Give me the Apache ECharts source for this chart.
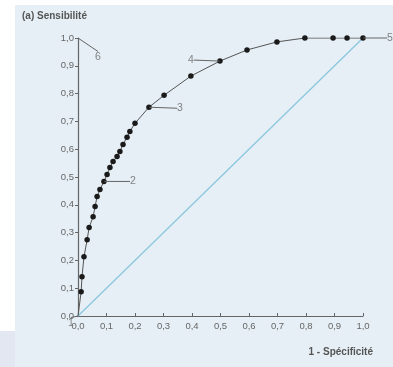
<!DOCTYPE html>
<html><head><meta charset="utf-8">
<script src="https://cdn.jsdelivr.net/npm/echarts@6/dist/echarts.min.js"></script>
<style>html,body{margin:0;padding:0;background:#fff}#c{width:393px;height:367px}</style>
</head><body><div id="c"></div>
<script>
// 1 - specificity (x) and sensitivity (y) of the ROC curve points
var fpr = [0, 0.011, 0.014, 0.021, 0.032, 0.039, 0.053, 0.060, 0.067, 0.077, 0.091, 0.102, 0.112, 0.123, 0.137, 0.147, 0.158, 0.172, 0.182, 0.200, 0.249, 0.302, 0.396, 0.498, 0.593, 0.698, 0.796, 0.895, 0.944, 1.0];
var tpr = [0, 0.087, 0.141, 0.213, 0.274, 0.318, 0.357, 0.394, 0.430, 0.455, 0.484, 0.509, 0.534, 0.556, 0.574, 0.592, 0.617, 0.643, 0.664, 0.693, 0.751, 0.794, 0.863, 0.917, 0.957, 0.986, 1.0, 1.0, 1.0, 1.0];
// annotated points
var annX = [0, 0.091, 0.249, 0.498, 1.0, 0];
var annY = [0, 0.484, 0.751, 0.917, 1.0, 1.0];
var annLabels = ['1', '2', '3', '4', '5', '6'];
var chanceX = [0, 1];
var chanceY = [0, 1];
var tickLabels = ['0,0','0,1','0,2','0,3','0,4','0,5','0,6','0,7','0,8','0,9','1,0'];
var titleText = '(a) Sensibilité';
var xName = '1 - Spécificité';

var labelOffsets = [[-7, 7], [29, 0], [31, 1], [-29, -1], [27, 0], [20, 19]];

var chart = echarts.init(document.getElementById('c'), null, {renderer: 'canvas'});
var curve = fpr.map(function (x, i) {
  return i === 0 ? {value: [x, tpr[i]], symbolSize: 0} : [x, tpr[i]];
});
var ann = annX.map(function (x, i) { return {value: [x, annY[i]], name: annLabels[i]}; });
var chance = chanceX.map(function (x, i) { return [x, chanceY[i]]; });
var fmt = function (v) { return tickLabels[Math.round(v * 10)]; };

chart.setOption({
  animation: false,
  backgroundColor: 'transparent',
  graphic: [
    {type: 'rect', shape: {x: 15, y: 5, width: 378, height: 362}, style: {fill: '#e5eff5'}, z: -10},
    {type: 'rect', shape: {x: 0, y: 331, width: 15, height: 36}, style: {fill: '#e2e7f2'}, z: -10},
    {type: 'text', left: 22, top: 11, style: {text: titleText, font: 'bold 10px "Liberation Sans", Arial', fill: '#555'}},
    {type: 'text', right: 20, top: 347, style: {text: xName, font: 'bold 10px "Liberation Sans", Arial', fill: '#555'}}
  ],
  grid: {left: 78, right: 30, top: 38, bottom: 51, containLabel: false},
  xAxis: {
    type: 'value', min: 0, max: 1, interval: 0.1,
    axisLine: {show: true, lineStyle: {color: '#666', width: 1.2}},
    axisTick: {show: true, inside: true, length: 3, lineStyle: {color: '#666'}},
    axisLabel: {formatter: fmt, color: '#666', fontSize: 9.5, margin: 5, fontFamily: 'Liberation Sans'},
    splitLine: {show: false}
  },
  yAxis: {
    type: 'value', min: 0, max: 1, interval: 0.1,
    axisLine: {show: true, lineStyle: {color: '#666', width: 1.2}},
    axisTick: {show: true, inside: false, length: 3, lineStyle: {color: '#666'}},
    axisLabel: {formatter: fmt, color: '#666', fontSize: 9.5, margin: 4, fontFamily: 'Liberation Sans'},
    splitLine: {show: false}
  },
  series: [
    {type: 'line', data: chance, symbol: 'none', lineStyle: {color: '#8cc6df', width: 1.3}, z: 1},
    {type: 'line', data: curve, symbol: 'circle', symbolSize: 5.5, itemStyle: {color: '#1a1a1a'},
     lineStyle: {color: '#555', width: 1}, z: 3},
    {type: 'scatter', data: ann, symbolSize: 1, itemStyle: {color: 'rgba(0,0,0,0)'}, z: 4,
     label: {show: true, position: 'inside', formatter: '{b}', color: '#666', fontSize: 10.5, fontFamily: 'Liberation Sans'},
     labelLine: {show: true, lineStyle: {color: '#666', width: 1}},
     labelLayout: function (p) { var o = labelOffsets[p.dataIndex]; return {dx: o[0], dy: o[1]}; }
    }
  ]
});
</script></body></html>
